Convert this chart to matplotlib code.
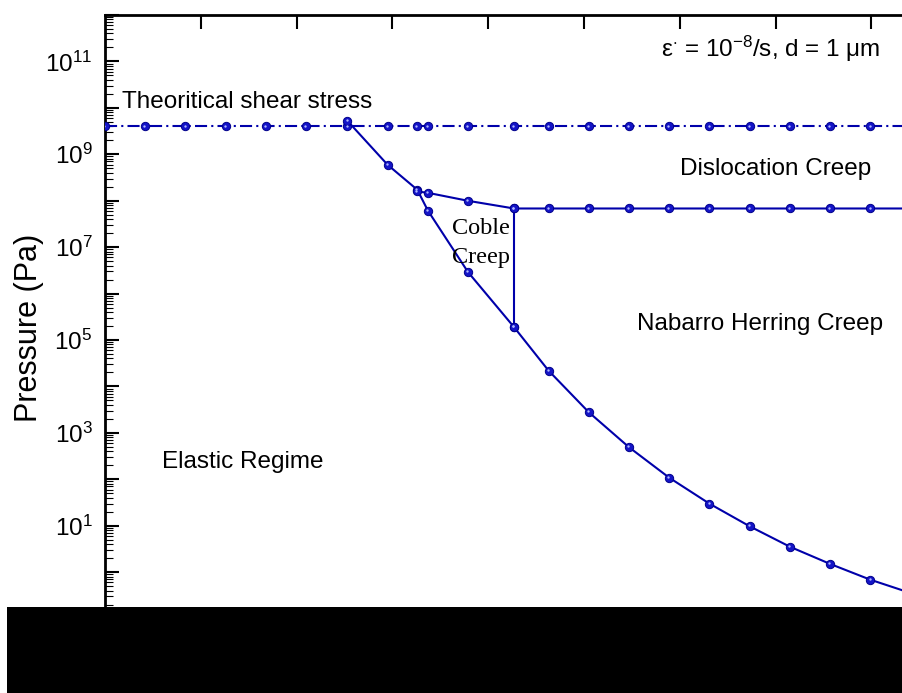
import matplotlib
matplotlib.use("Agg")
import matplotlib.pyplot as plt
import matplotlib.ticker as mticker
import matplotlib.transforms as mtransforms
from matplotlib.patches import Rectangle
import numpy as np

plt.rcParams['font.family'] = ['Liberation Sans', 'DejaVu Sans']
plt.rcParams['mathtext.fontset'] = 'custom'
plt.rcParams['mathtext.rm'] = 'Liberation Sans'
plt.rcParams['mathtext.it'] = 'Liberation Sans:italic'
plt.rcParams['mathtext.bf'] = 'Liberation Sans:bold'

# ---------------- data ----------------
shear_x = [0, 42, 84, 126, 168, 210, 253, 295, 326, 337, 379, 427, 463, 505,
           547, 589, 631, 673, 715, 757, 799, 841]
shear_y = [3.97e9, 3.97e9, 3.97e9, 3.97e9, 3.97e9, 3.97e9, 3.97e9, 3.97e9,
           3.97e9, 3.97e9, 3.97e9, 3.97e9, 3.97e9, 3.97e9, 3.97e9, 3.97e9,
           3.97e9, 3.97e9, 3.97e9, 3.97e9, 3.97e9, 3.97e9]

boundary_x = [253, 295, 326, 337, 379, 427, 463, 505, 547, 589, 631, 673,
              715, 757, 799, 841]
boundary_y = [5.27e9, 5.94e8, 1.72e8, 6.15e7, 2.89e6, 1.89e5, 2.19e4, 2.78e3,
              490, 108, 29.8, 9.7, 3.52, 1.50, 0.686, 0.355]

disl_x = [326, 337, 379, 427, 463, 505, 547, 589, 631, 673, 715, 757, 799, 841]
disl_y = [1.58e8, 1.48e8, 9.95e7, 6.8e7, 6.8e7, 6.8e7, 6.8e7, 6.8e7, 6.8e7,
          6.8e7, 6.8e7, 6.8e7, 6.8e7, 6.8e7]

coble_x = [427, 427]
coble_y = [6.8e7, 1.89e5]

y_label_exponents = [-1, 1, 3, 5, 7, 9, 11]
x_ticks = [100, 200, 300, 400, 500, 600, 700, 800]

# ---------------- figure ----------------
W, H = 902, 693
fig = plt.figure(figsize=(W / 100, H / 100), dpi=100)
ax_left, ax_right, ax_top, ax_bot = 105, 920, 15, 665
ax = fig.add_axes([ax_left / W, (H - ax_bot) / H,
                   (ax_right - ax_left) / W, (ax_bot - ax_top) / H])

line_col = '#0000AA'
mfc = '#1414C8'
mec = '#00008B'
ms = 6.0

hl_tr = mtransforms.offset_copy(ax.transData, fig=fig, x=-0.6, y=0.6, units='points')

def draw(x, y, ls):
    ax.plot(x, y, color=line_col, lw=1.5, ls=ls, marker='o', ms=ms,
            mfc=mfc, mec=mec, mew=0.7, zorder=3)
    ax.plot(x, y, ls='none', marker='o', ms=1.7, mfc='#b0b8ff', mec='none',
            transform=hl_tr, zorder=4)

draw(shear_x, shear_y, (0, (5.8, 2.0, 1, 2.0)))
draw(boundary_x, boundary_y, '-')
draw(disl_x, disl_y, '-')
draw(coble_x, coble_y, '-')

ax.set_yscale('log')
ax.set_xlim(0, (ax_right - ax_left) / 0.958)
ax.set_ylim(1e-2, 1e12)

decades = list(range(-2, 13))
ax.yaxis.set_major_locator(mticker.FixedLocator([10.0 ** k for k in decades]))
minor_pos = [m * 10.0 ** k for k in decades[:-1] for m in range(2, 10)]
ax.yaxis.set_minor_locator(mticker.FixedLocator(minor_pos))

def yfmt(v, pos):
    k = int(round(np.log10(v)))
    if k in y_label_exponents:
        return r'$10^{%d}$' % k
    return ''
ax.yaxis.set_major_formatter(mticker.FuncFormatter(yfmt))
ax.yaxis.set_minor_formatter(mticker.NullFormatter())

ax.set_xticks(x_ticks)
ax.xaxis.set_minor_locator(mticker.NullLocator())
ax.tick_params(axis='x', which='major', direction='in', top=True, bottom=True,
               labelbottom=False, length=10, width=1.5)
ax.tick_params(axis='y', which='major', direction='in', left=True, right=False,
               length=10, width=1.5, labelsize=17.5, pad=9)
ax.tick_params(axis='y', which='minor', direction='in', left=True, right=False,
               length=5.5, width=0.8)
for s in ['left', 'top', 'bottom']:
    ax.spines[s].set_linewidth(2.0)
ax.spines['right'].set_visible(False)

# ---------------- texts ----------------
fs = 17.5
ax.text(17.7, 10 ** 10.0, 'Theoritical shear stress', fontsize=fs, va='baseline', ha='left')
ax.text(600, 10 ** 8.56, 'Dislocation Creep', fontsize=fs, va='baseline', ha='left')
ax.text(555, 10 ** 5.22, 'Nabarro Herring Creep', fontsize=fs, va='baseline', ha='left')
ax.text(59, 10 ** 2.24, 'Elastic Regime', fontsize=fs, va='baseline', ha='left')
ax.text(362.5, 10 ** 7.29, 'Coble', fontsize=fs, va='baseline', ha='left',
        family=['Liberation Serif', 'DejaVu Serif'])
ax.text(362.5, 10 ** 6.66, 'Creep', fontsize=fs, va='baseline', ha='left',
        family=['Liberation Serif', 'DejaVu Serif'])
ax.text(809, 10 ** 11.1, 'ε$^{\\cdot}$ = 10$^{-8}$/s, d = 1 μm', fontsize=fs,
        va='baseline', ha='right')

fig.text(29 / W, 1 - 328 / H, 'Pressure (Pa)', fontsize=22, rotation=90,
         ha='center', va='center')

# black box covering the bottom
fig.add_artist(Rectangle((7 / W, 0), 1.0, (H - 606.7) / H, transform=fig.transFigure,
                         facecolor='black', edgecolor='none', zorder=20))

fig.savefig('out.png', dpi=100)
